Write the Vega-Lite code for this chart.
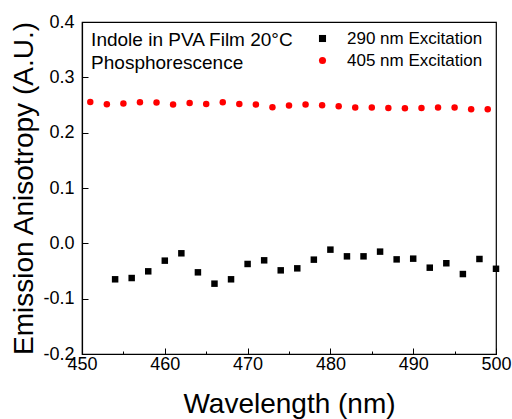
{
  "$schema": "https://vega.github.io/schema/vega-lite/v6.json",
  "width": 414,
  "height": 332,
  "autosize": {"type": "none"},
  "padding": {"left": 82, "top": 22, "right": 16, "bottom": 65},
  "background": "white",
  "config": {
    "font": "Liberation Sans",
    "view": {"stroke": "black", "strokeWidth": 1.2}
  },
  "data": {"values": [
      {"wl": 454, "r": -0.065, "series": "290 nm Excitation"},
      {"wl": 456, "r": -0.0627, "series": "290 nm Excitation"},
      {"wl": 458, "r": -0.0506, "series": "290 nm Excitation"},
      {"wl": 460, "r": -0.0313, "series": "290 nm Excitation"},
      {"wl": 462, "r": -0.018, "series": "290 nm Excitation"},
      {"wl": 464, "r": -0.0524, "series": "290 nm Excitation"},
      {"wl": 466, "r": -0.0729, "series": "290 nm Excitation"},
      {"wl": 468, "r": -0.065, "series": "290 nm Excitation"},
      {"wl": 470, "r": -0.0373, "series": "290 nm Excitation"},
      {"wl": 472, "r": -0.0307, "series": "290 nm Excitation"},
      {"wl": 474, "r": -0.0488, "series": "290 nm Excitation"},
      {"wl": 476, "r": -0.0452, "series": "290 nm Excitation"},
      {"wl": 478, "r": -0.0295, "series": "290 nm Excitation"},
      {"wl": 480, "r": -0.0114, "series": "290 nm Excitation"},
      {"wl": 482, "r": -0.0235, "series": "290 nm Excitation"},
      {"wl": 484, "r": -0.0235, "series": "290 nm Excitation"},
      {"wl": 486, "r": -0.015, "series": "290 nm Excitation"},
      {"wl": 488, "r": -0.029, "series": "290 nm Excitation"},
      {"wl": 490, "r": -0.0277, "series": "290 nm Excitation"},
      {"wl": 492, "r": -0.044, "series": "290 nm Excitation"},
      {"wl": 494, "r": -0.036, "series": "290 nm Excitation"},
      {"wl": 496, "r": -0.0555, "series": "290 nm Excitation"},
      {"wl": 498, "r": -0.0283, "series": "290 nm Excitation"},
      {"wl": 500, "r": -0.046, "series": "290 nm Excitation"},
      {"wl": 451, "r": 0.2555, "series": "405 nm Excitation"},
      {"wl": 453, "r": 0.2514, "series": "405 nm Excitation"},
      {"wl": 455, "r": 0.2526, "series": "405 nm Excitation"},
      {"wl": 457, "r": 0.255, "series": "405 nm Excitation"},
      {"wl": 459, "r": 0.2544, "series": "405 nm Excitation"},
      {"wl": 461, "r": 0.2508, "series": "405 nm Excitation"},
      {"wl": 463, "r": 0.2537, "series": "405 nm Excitation"},
      {"wl": 465, "r": 0.2519, "series": "405 nm Excitation"},
      {"wl": 467, "r": 0.255, "series": "405 nm Excitation"},
      {"wl": 469, "r": 0.2519, "series": "405 nm Excitation"},
      {"wl": 471, "r": 0.2508, "series": "405 nm Excitation"},
      {"wl": 473, "r": 0.2459, "series": "405 nm Excitation"},
      {"wl": 475, "r": 0.249, "series": "405 nm Excitation"},
      {"wl": 477, "r": 0.2508, "series": "405 nm Excitation"},
      {"wl": 479, "r": 0.2495, "series": "405 nm Excitation"},
      {"wl": 481, "r": 0.2477, "series": "405 nm Excitation"},
      {"wl": 483, "r": 0.2453, "series": "405 nm Excitation"},
      {"wl": 485, "r": 0.2453, "series": "405 nm Excitation"},
      {"wl": 487, "r": 0.2447, "series": "405 nm Excitation"},
      {"wl": 489, "r": 0.2441, "series": "405 nm Excitation"},
      {"wl": 491, "r": 0.2447, "series": "405 nm Excitation"},
      {"wl": 493, "r": 0.2453, "series": "405 nm Excitation"},
      {"wl": 495, "r": 0.2453, "series": "405 nm Excitation"},
      {"wl": 497, "r": 0.2423, "series": "405 nm Excitation"},
      {"wl": 499, "r": 0.2423, "series": "405 nm Excitation"}
  ]},
  "layer": [
    {
      "mark": {"type": "point", "filled": true, "opacity": 1, "size": 42},
      "encoding": {
        "x": {
          "field": "wl", "type": "quantitative",
          "scale": {"domain": [450, 500], "nice": false, "zero": false},
          "axis": {
            "title": "Wavelength (nm)",
            "titleFontSize": 28, "titleFontWeight": "normal", "titleColor": "black", "titlePadding": 17,
            "values": [450, 455, 460, 465, 470, 475, 480, 485, 490, 495, 500],
            "labelExpr": "datum.value % 10 === 0 ? datum.label : ''",
            "labelFontSize": 18, "labelColor": "black", "labelPadding": 7, "labelFlush": false,
            "domainColor": "black", "domainWidth": 1.2,
            "tickColor": "black", "tickWidth": 1,
            "tickSize": {"condition": {"test": "datum.value % 10 === 0", "value": -6}, "value": -3},
            "grid": false
          }
        },
        "y": {
          "field": "r", "type": "quantitative",
          "scale": {"domain": [-0.2, 0.4], "nice": false, "zero": false},
          "axis": {
            "title": "Emission Anisotropy (A.U.)",
            "titleFontSize": 28, "titleFontWeight": "normal", "titleColor": "black", "titlePadding": 4,
            "values": [-0.2, -0.15, -0.1, -0.05, 0, 0.05, 0.1, 0.15, 0.2, 0.25, 0.3, 0.35, 0.4],
            "labelExpr": "abs(round(datum.value * 100) % 10) === 0 ? replace(format(datum.value, '.1f'), '−', '-') : ''",
            "labelFontSize": 18, "labelColor": "black", "labelPadding": 14, "labelFlush": false,
            "domainColor": "black", "domainWidth": 1.2,
            "tickColor": "black", "tickWidth": 1,
            "tickSize": {"condition": {"test": "abs(round(datum.value * 100) % 10) === 0", "value": -6}, "value": -3},
            "grid": false
          }
        },
        "shape": {
          "field": "series", "type": "nominal",
          "scale": {"domain": ["290 nm Excitation", "405 nm Excitation"], "range": ["square", "circle"]},
          "legend": {
            "title": null, "orient": "none", "legendX": 232, "legendY": 8,
            "labelFontSize": 17, "labelColor": "black", "symbolSize": 50,
            "rowPadding": 4, "labelOffset": 16, "symbolStrokeWidth": 0
          }
        },
        "color": {
          "field": "series", "type": "nominal",
          "scale": {"domain": ["290 nm Excitation", "405 nm Excitation"], "range": ["black", "#ff0000"]}
        }
      }
    },
    {
      "data": {"values": [{}]},
      "mark": {"type": "text", "text": "Indole in PVA Film 20°C", "align": "left", "baseline": "middle", "fontSize": 19, "color": "black"},
      "encoding": {
        "x": {"datum": 451.1, "type": "quantitative"},
        "y": {"datum": 0.367, "type": "quantitative"}
      }
    },
    {
      "data": {"values": [{}]},
      "mark": {"type": "text", "text": "Phosphorescence", "align": "left", "baseline": "middle", "fontSize": 19, "color": "black"},
      "encoding": {
        "x": {"datum": 451.1, "type": "quantitative"},
        "y": {"datum": 0.326, "type": "quantitative"}
      }
    }
  ]
}
